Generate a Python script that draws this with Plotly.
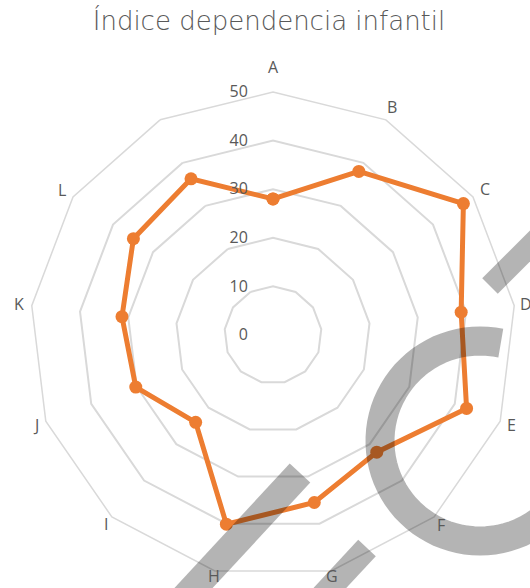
import math
import plotly.graph_objects as go

categories = ["A", "B", "C", "D", "E", "F", "G", "H", "I", "J", "K", "L", " "]
values = [28, 38, 47.6, 39, 42.6, 32.2, 35.5, 40.1, 24, 30.2, 31.3, 34.9, 36.3]
radial_ticks = [0, 10, 20, 30, 40, 50]

W, H = 530, 588
cx, cy, R = 273, 335, 243   # chart centre and outer radius, in pixels
label_dist = [268, 257, 257, 255, 255, 254, 248, 248, 252, 254, 256, 256, 256]


def px(x, y):
    return x / W, 1 - y / H


fig = go.Figure()
fig.add_trace(go.Scatterpolar(
    r=values + values[:1], theta=categories + categories[:1],
    mode="lines+markers",
    line=dict(color="#ED7D31", width=5),
    marker=dict(color="#ED7D31", size=13),
    showlegend=False, hoverinfo="skip",
))

# category labels (placed like Excel, close to the outer ring)
annotations = []
n = len(categories)
for i, (cat, d) in enumerate(zip(categories, label_dist)):
    a = 2 * math.pi * i / n
    x, y = px(cx + d * math.sin(a), cy - d * math.cos(a))
    annotations.append(dict(text=cat, x=x, y=y, xref="paper", yref="paper",
                            xanchor="center", yanchor="middle", showarrow=False,
                            font=dict(family="Open Sans", size=16, color="#595959")))

# watermark strokes
shapes = []
ang = [12 - i * 4 for i in range(67)]
pts = [px(480 + 100 * math.sin(math.radians(a)), 441 - 100 * math.cos(math.radians(a))) for a in ang]
path = "M " + " L ".join(f"{x:.4f},{y:.4f}" for x, y in pts)
shapes.append(dict(type="path", path=path, xref="paper", yref="paper",
                   line=dict(color="black", width=29), opacity=0.29, layer="above"))
for (x0, y0), (x1, y1), w in [((490, 286), (570, 206), 22), ((300, 473), (175, 608), 28),
                              ((367, 548), (315, 604), 24)]:
    a, b = px(x0, y0)
    c, d = px(x1, y1)
    shapes.append(dict(type="line", x0=a, y0=b, x1=c, y1=d, xref="paper", yref="paper",
                       line=dict(color="black", width=w), opacity=0.29, layer="above"))

x0d, y1d = px(cx - R, cy - R)
x1d, y0d = px(cx + R, cy + R)
tx, ty = px(269, 21)

fig.update_layout(
    width=W, height=H,
    margin=dict(l=0, r=0, t=0, b=0),
    paper_bgcolor="white", plot_bgcolor="white",
    shapes=shapes, annotations=annotations,
    title=dict(text="Índice dependencia infantil", x=tx, xanchor="center",
               y=ty, yanchor="middle",
               font=dict(family="DejaVu Sans", size=26, color="#595959", weight=200)),
    polar=dict(
        domain=dict(x=[x0d, x1d], y=[max(y0d, 0), y1d]),
        gridshape="linear",
        bgcolor="white",
        radialaxis=dict(range=[0, 50], tickvals=radial_ticks, angle=90, tickangle=90,
                        showline=False, gridcolor="#d9d9d9", gridwidth=1.5,
                        ticks="outside", ticklen=19, tickcolor="rgba(0,0,0,0)",
                        side="counterclockwise",
                        tickfont=dict(family="Open Sans", size=16, color="#595959")),
        angularaxis=dict(rotation=90, direction="clockwise",
                         showgrid=False, showline=True, linecolor="#d9d9d9", linewidth=1.5,
                         ticks="", showticklabels=False),
    ),
)

# drop the default 8px body margin so the figure fills the window
fig.write_html("out.html", config={"displayModeBar": False},
               post_script="document.body.style.margin = '0';")
